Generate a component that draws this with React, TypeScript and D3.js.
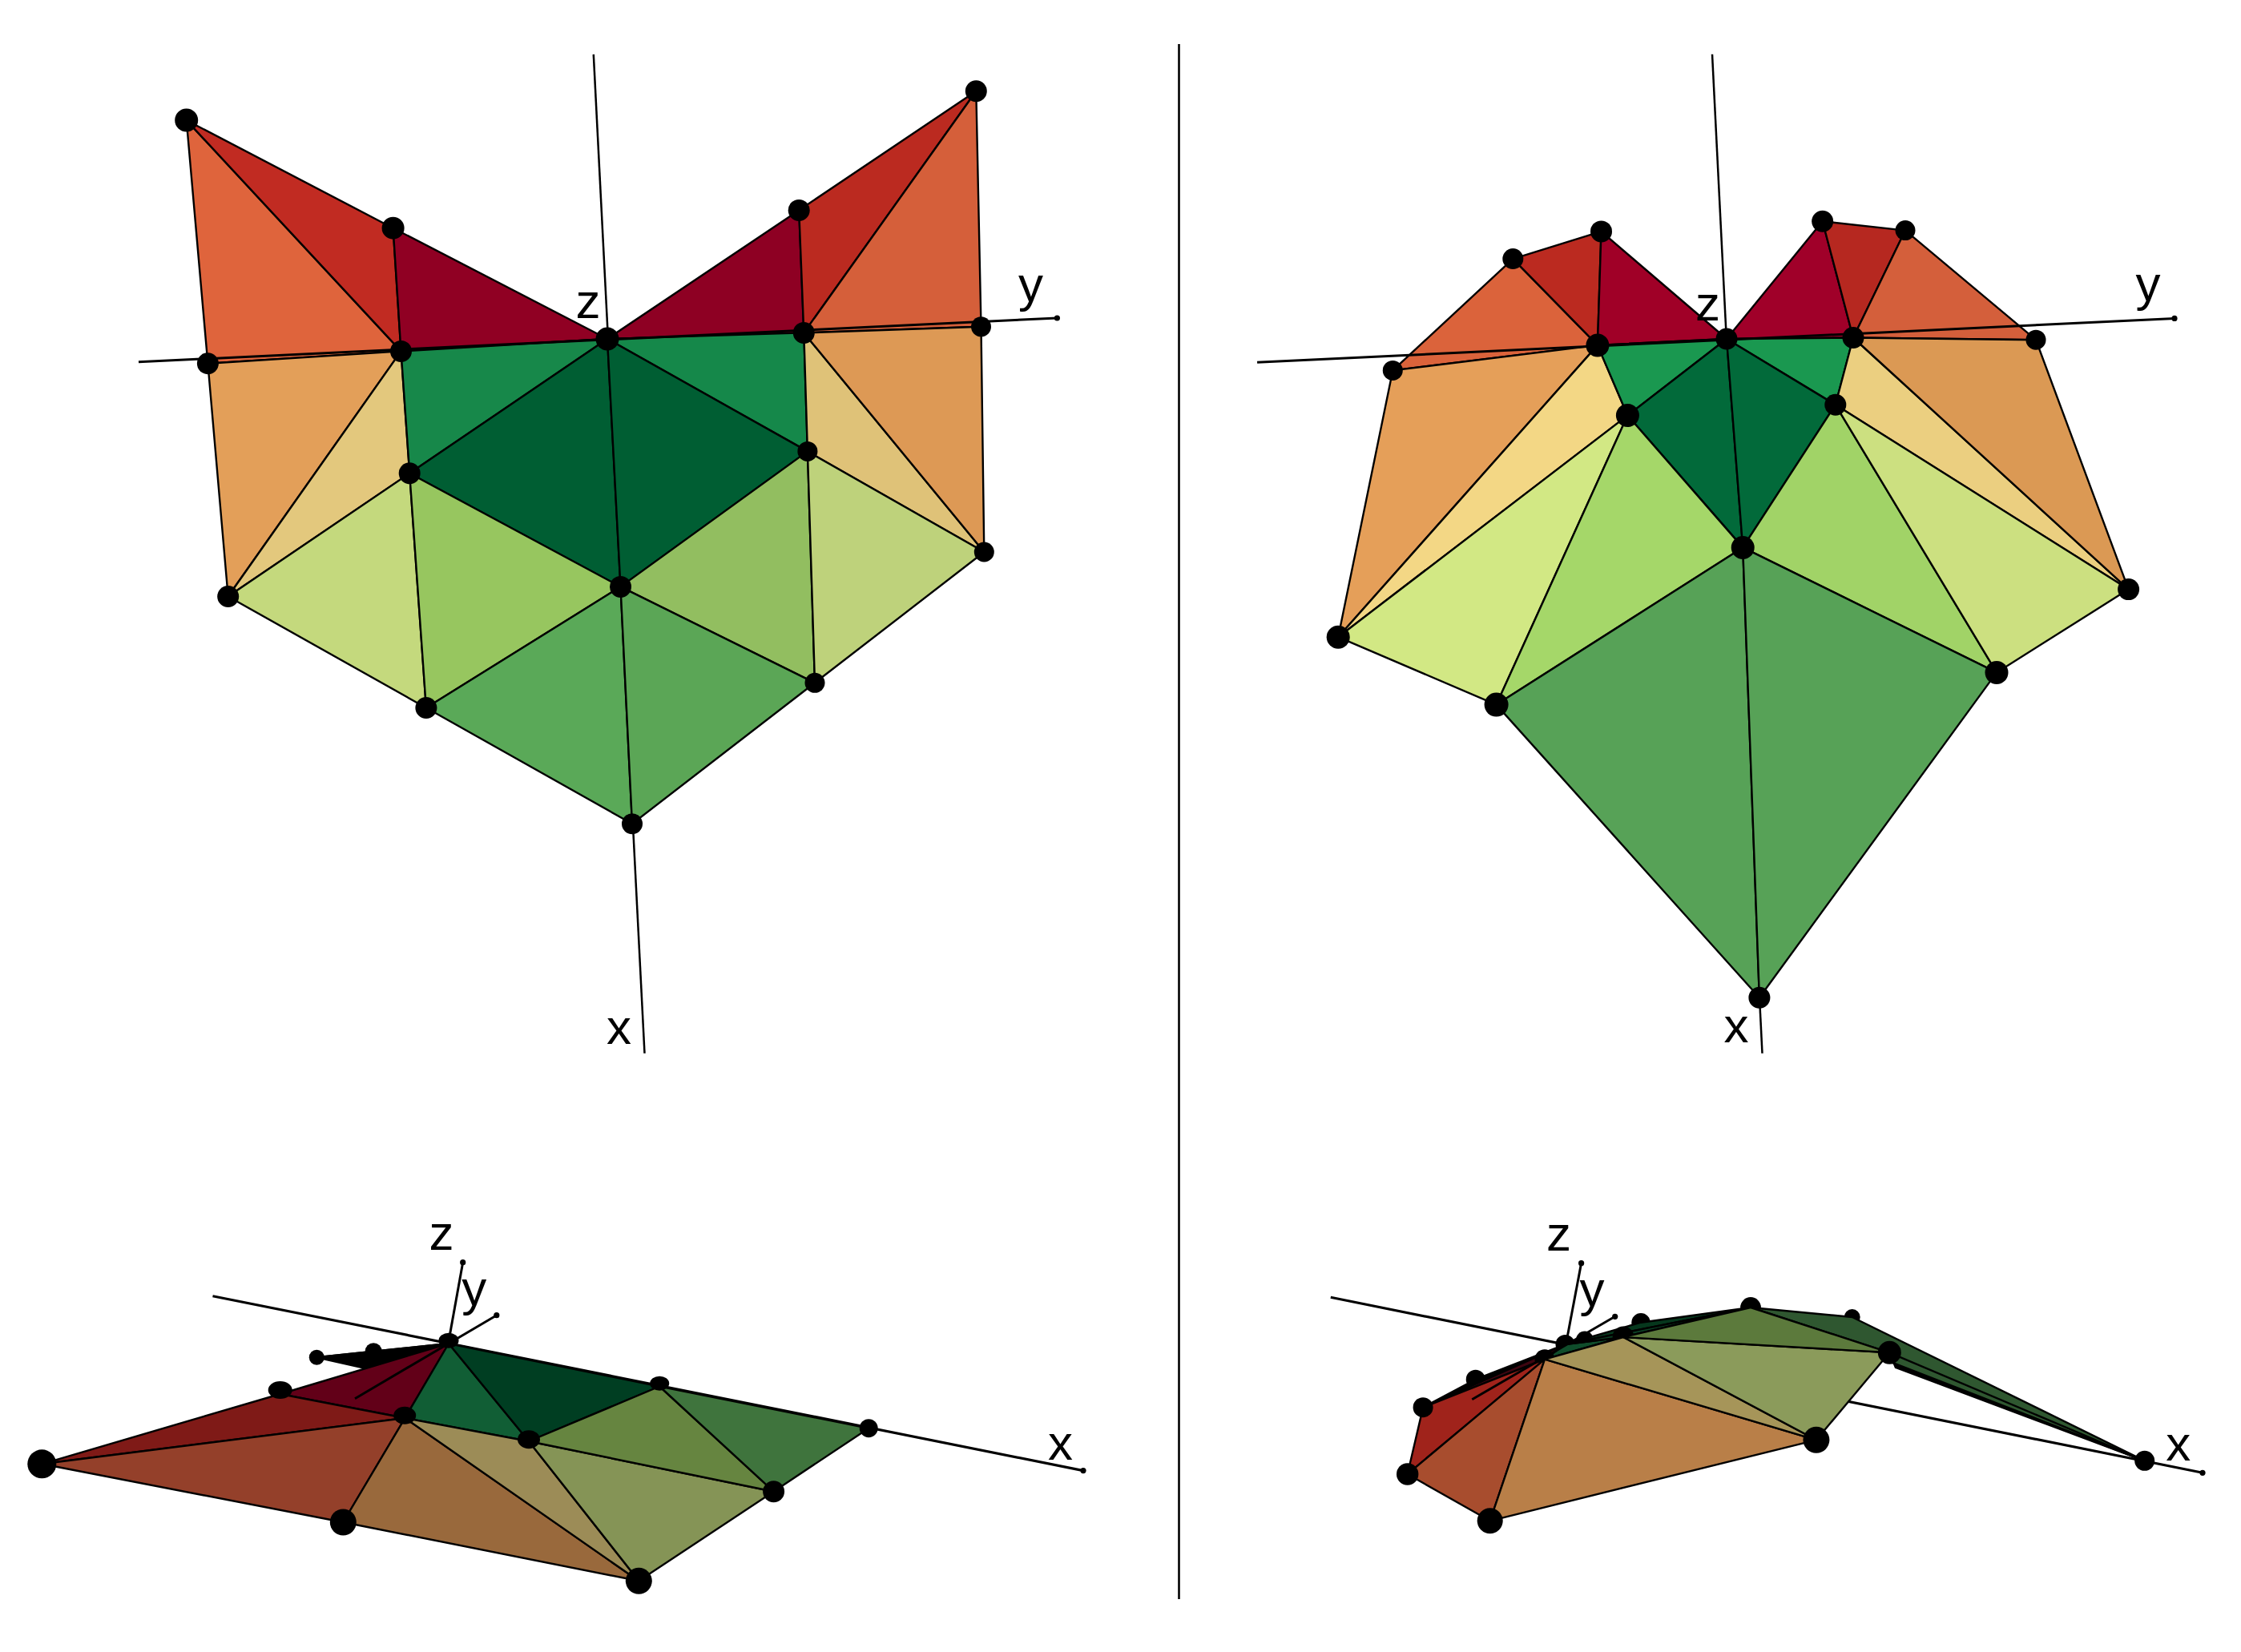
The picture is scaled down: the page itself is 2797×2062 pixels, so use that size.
import React from "react";
import * as d3 from "d3";

type Pt = [number, number];
type Nodes = Record<string, Pt>;
type Axis = { from: Pt; to: Pt; tip?: boolean; under?: boolean };
type Face = [string, string, string, string]; // three node ids + fill
type Label = { text: string; at: Pt };
type Flat = { at: Pt; rx: number; ry: number };

const WIDTH = 2797;
const HEIGHT = 2062;

// Projected mesh positions per view (1 unit = 100px, origin at the centre node)
const nodesA: Nodes = {
  a: [-5.253, 2.729], b: [-2.674, 1.383], c: [0, 0], d: [2.392, 1.606], e: [4.603, 3.092],
  f: [-4.986, -0.307], g: [-2.575, -0.154], h: [2.453, 0.076], i: [4.665, 0.152],
  j: [-2.468, -1.678], k: [2.499, -1.404], l: [-4.733, -3.215], m: [0.165, -3.094],
  n: [4.703, -2.66], o: [-2.261, -4.605], p: [2.59, -4.293], q: [0.31, -6.053],
};
const nodesB: Nodes = {
  a: [-2.667, 0.999], b: [-1.565, 1.341], c: [0, 0], d: [1.197, 1.468], e: [2.23, 1.354],
  f: [-4.167, -0.394], g: [-1.611, -0.079], h: [1.58, 0.015], i: [3.86, -0.012],
  j: [-1.236, -0.956], k: [1.358, -0.822], l: [-4.848, -3.722], m: [0.202, -2.604],
  n: [5.016, -3.126], o: [-2.874, -4.566], p: [3.37, -4.164], q: [0.409, -8.222],
};
const nodesC: Nodes = {
  a: [-5.077, -1.533], b: [-2.103, -0.66], c: [0, -0.03], d: [-0.938, -0.127], e: [-1.647, -0.203],
  f: [-1.317, -2.26], g: [-0.545, -0.96], j: [1.0, -1.25], l: [2.373, -2.993],
  m: [2.632, -0.565], o: [4.056, -1.877], q: [5.242, -1.087], w: [-1.067, -0.333],
};
const nodesD: Nodes = {
  a: [-1.983, -1.65], f: [-0.953, -2.233], b: [-1.789, -0.817], e: [-1.133, -0.467],
  c: [-0.015, -0.03], g: [-0.27, -0.217], h: [0.23, 0.025], j: [0.71, 0.06], k: [0.93, 0.243],
  m: [2.3, 0.43], p: [3.567, 0.31], o: [4.033, -0.133], l: [3.119, -1.223], q: [7.217, -1.483],
  w: [4.11, -0.32],
};

const radiiA: Record<string, number> = { a: 14.5, b: 14, c: 14.5, d: 13.5, e: 13.5, f: 13.5, g: 13.5, h: 13.5, i: 12.5, j: 13.5, k: 12.5, l: 13.5, m: 13.5, n: 12.5, o: 13.5, p: 12.5, q: 13 };
const radiiB: Record<string, number> = { a: 13, b: 13.5, c: 13.5, d: 13.5, e: 12.5, f: 12.5, g: 14.5, h: 13.5, i: 12.5, j: 14.5, k: 13.5, l: 14.5, m: 14.5, n: 13.5, o: 15, p: 14.5, q: 13.5 };
const radiiC: Record<string, number> = { a: 18, d: 10.5, e: 9.5, f: 16.5, l: 16.5, o: 13.5, q: 11.5 };
const radiiD: Record<string, number> = { a: 13.7, b: 12.5, c: 12, e: 12, f: 16, g: 12.5, h: 11, j: 13.4, k: 11.7, l: 16.5, m: 12.9, o: 14.5, p: 10, q: 12.5 };

// Markers of the low view that the surface cuts into, seen as flat domes
const flatC: Flat[] = [
  { at: [0, 0.007], rx: 12.5, ry: 9.5 },
  { at: [-2.103, -0.61], rx: 15, ry: 11 },
  { at: [-0.548, -0.927], rx: 14, ry: 11 },
  { at: [1.0, -1.227], rx: 14, ry: 11.5 },
  { at: [2.632, -0.527], rx: 12, ry: 9 },
];

const facesA: Face[] = [
  ["a", "f", "g", "#df643c"], ["a", "b", "g", "#c12b22"], ["b", "c", "g", "#900023"],
  ["d", "c", "h", "#8e0023"], ["d", "e", "h", "#bb2a20"], ["e", "h", "i", "#d55f3a"],
  ["f", "g", "l", "#e39f59"], ["g", "j", "l", "#e3c87d"], ["g", "c", "j", "#17884a"],
  ["c", "h", "k", "#15884a"], ["c", "j", "m", "#005e33"], ["c", "k", "m", "#005e33"],
  ["h", "k", "n", "#dfc278"], ["h", "i", "n", "#dd9955"], ["j", "l", "o", "#c4d97d"],
  ["j", "m", "o", "#97c65f"], ["k", "m", "p", "#92be60"], ["k", "n", "p", "#bed27b"],
  ["m", "o", "q", "#5aa958"], ["m", "p", "q", "#5ba656"],
];
const facesB: Face[] = [
  ["a", "f", "g", "#db633b"], ["a", "b", "g", "#bb2a20"], ["b", "c", "g", "#a00027"],
  ["d", "c", "h", "#a00029"], ["d", "e", "h", "#b62820"], ["e", "h", "i", "#d45f3b"],
  ["f", "g", "l", "#e59f59"], ["g", "j", "l", "#f3d785"], ["g", "c", "j", "#1a9850"],
  ["c", "h", "k", "#1a9850"], ["c", "j", "m", "#026a3a"], ["c", "k", "m", "#026a3a"],
  ["h", "k", "n", "#ebcf80"], ["h", "i", "n", "#db9954"], ["j", "l", "o", "#d2e884"],
  ["j", "m", "o", "#a5d769"], ["k", "m", "p", "#a1d367"], ["k", "n", "p", "#cce080"],
  ["m", "o", "q", "#57a257"], ["m", "p", "q", "#57a257"],
];
const backFacesC: Face[] = [
  ["e", "d", "c", "#000000"], ["e", "c", "w", "#000000"], ["b", "c", "g", "#620018"],
  ["g", "c", "j", "#115e35"], ["c", "j", "m", "#003e22"],
];
const frontFacesC: Face[] = [
  ["a", "b", "g", "#7f1a17"], ["a", "f", "g", "#94402a"], ["f", "g", "l", "#99693c"],
  ["g", "j", "l", "#9c8c57"], ["j", "l", "o", "#859456"], ["j", "m", "o", "#668540"],
  ["m", "o", "q", "#3f743d"],
];
const backFacesD: Face[] = [
  ["b", "e", "c", "#000000"], ["b", "c", "g", "#3d0510"], ["g", "c", "j", "#0f4d2b"],
  ["c", "k", "m", "#06371d"], ["c", "j", "m", "#0c4125"], ["o", "w", "q", "#000000"],
  ["m", "p", "q", "#2f5730"], ["m", "o", "q", "#2f5730"],
];
const frontFacesD: Face[] = [
  ["a", "b", "g", "#a0231b"], ["a", "f", "g", "#a84d2e"], ["f", "g", "l", "#b97f48"],
  ["g", "j", "l", "#a69559"], ["j", "l", "o", "#8b9b5b"], ["j", "m", "o", "#5c7a3c"],
];

const axesA: Axis[] = [
  { from: [-0.172, 3.551], to: [0.465, -8.917], under: true },
  { from: [-5.85, -0.288], to: [5.614, 0.26], tip: true },
];
const axesB: Axis[] = [
  { from: [-0.18, 3.552], to: [0.445, -8.917], under: true },
  { from: [-5.859, -0.293], to: [5.59, 0.256], tip: true },
];
const axesC: Axis[] = [
  { from: [-2.945, 0.563], to: [7.92, -1.616], tip: true, under: true },
  { from: [0, 0], to: [0.177, 0.983], tip: true },
  { from: [-1.17, -0.717], to: [0.598, 0.323], tip: true },
];
const axesD: Axis[] = [
  { from: [-2.942, 0.557], to: [7.94, -1.633], tip: true, under: true },
  { from: [0, 0], to: [0.186, 0.983], tip: true },
  { from: [-1.177, -0.717], to: [0.607, 0.317], tip: true },
];

const labelsA: Label[] = [{ text: "z", at: [-0.24, 0.26] }, { text: "y", at: [5.285, 0.47] }, { text: "x", at: [0.144, -8.8] }];
const labelsB: Label[] = [{ text: "z", at: [-0.234, 0.23] }, { text: "y", at: [5.26, 0.48] }, { text: "x", at: [0.12, -8.78] }];
const labelsC: Label[] = [{ text: "z", at: [-0.09, 1.14] }, { text: "y", at: [0.317, 0.45] }, { text: "x", at: [7.636, -1.48] }];
const labelsD: Label[] = [{ text: "z", at: [-0.095, 1.14] }, { text: "y", at: [0.32, 0.45] }, { text: "x", at: [7.638, -1.48] }];

const views = [
  { origin: [758, 423], nodes: nodesA, radii: radiiA, flat: [] as Flat[], back: [] as string[], mid: [] as string[], backFaces: [] as Face[], frontFaces: facesA, axes: axesA, labels: labelsA, underWidth: 2.5 },
  { origin: [2155, 423], nodes: nodesB, radii: radiiB, flat: [], back: [], mid: [], backFaces: [], frontFaces: facesB, axes: axesB, labels: labelsB, underWidth: 2.5 },
  { origin: [560, 1674], nodes: nodesC, radii: radiiC, flat: flatC, back: [], mid: [], backFaces: backFacesC, frontFaces: frontFacesC, axes: axesC, labels: labelsC, underWidth: 3.2 },
  { origin: [1955, 1675], nodes: nodesD, radii: radiiD, flat: [], back: ["e", "c", "h", "k", "m", "p"], mid: ["g", "j"], backFaces: backFacesD, frontFaces: frontFacesD, axes: axesD, labels: labelsD, underWidth: 3.2 },
];

const View = ({ view }: { view: (typeof views)[number] }) => {
  const x = d3.scaleLinear().domain([0, 1]).range([view.origin[0], view.origin[0] + 100]);
  const y = d3.scaleLinear().domain([0, 1]).range([view.origin[1], view.origin[1] - 100]);
  const line = d3.line<Pt>().x(d => x(d[0])).y(d => y(d[1])).curve(d3.curveLinearClosed);

  const drawFaces = (faces: Face[]) =>
    faces.map((f, i) => (
      <path
        key={i}
        d={line([view.nodes[f[0]], view.nodes[f[1]], view.nodes[f[2]]]) as string}
        fill={f[3]}
        stroke="#000"
        strokeWidth={2.4}
        strokeLinejoin="round"
      />
    ));
  const drawNodes = (ids: string[]) =>
    ids.map(id => (
      <circle key={id} cx={x(view.nodes[id][0])} cy={y(view.nodes[id][1])} r={view.radii[id]} fill="#000" />
    ));
  const drawAxes = (axes: Axis[]) =>
    axes.map((a, i) => (
      <g key={i}>
        <line x1={x(a.from[0])} y1={y(a.from[1])} x2={x(a.to[0])} y2={y(a.to[1])} stroke="#000" strokeWidth={a.under ? view.underWidth : 3} />
        {a.tip && <circle cx={x(a.to[0])} cy={y(a.to[1])} r={3.6} fill="#000" />}
      </g>
    ));

  const lower = [...view.back, ...view.mid];
  const top = Object.keys(view.radii).filter(id => !lower.includes(id));

  return (
    <g>
      {drawAxes(view.axes.filter(a => a.under))}
      {drawNodes(view.back)}
      {drawFaces(view.backFaces)}
      {drawNodes(view.mid)}
      {drawFaces(view.frontFaces)}
      {drawAxes(view.axes.filter(a => !a.under))}
      {drawNodes(top)}
      {view.flat.map((f, i) => (
        <ellipse key={i} cx={x(f.at[0])} cy={y(f.at[1])} rx={f.rx} ry={f.ry} fill="#000" />
      ))}
      {view.labels.map(l => (
        <text key={l.text} x={x(l.at[0])} y={y(l.at[1])} textAnchor="middle" fontFamily="Liberation Sans" fontSize={62} fill="#000">
          {l.text}
        </text>
      ))}
    </g>
  );
};

export default function App() {
  return (
    <svg width={WIDTH} height={HEIGHT} style={{ position: "absolute", left: 0, top: 0, background: "#fff" }}>
      {views.map((v, i) => <View key={i} view={v} />)}
      {/* divider between the two columns */}
      <line x1={1471.5} y1={55} x2={1471.5} y2={1996} stroke="#000" strokeWidth={2.6} />
    </svg>
  );
}
